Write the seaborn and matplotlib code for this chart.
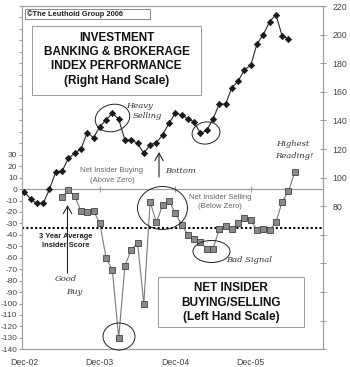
import matplotlib
matplotlib.use("Agg")
import matplotlib.pyplot as plt
import numpy as np
import pandas as pd
import seaborn as sns
from matplotlib.patches import Ellipse, Rectangle

# ---------------- data ----------------
# Investment Banking & Brokerage Index (right scale), monthly from Dec-02
index_perf = [90, 85, 82, 82, 92, 104, 104.5, 113.5, 117, 120, 131.5, 128,
              135.5, 140.5, 145, 141, 126, 126.5, 124, 117, 123, 124.5, 130, 138,
              145, 144, 141, 139, 131, 133, 141, 151.5, 151.5, 163, 167.5, 175.5,
              178.5, 193.5, 200, 209, 214, 199, 197]
# Net insider buying/selling (left scale), starting Jun-03
insider_start = 6
insider_score = [-7, -1, -6, -19, -20, -19, -30, -60, -71, -130, -67, -53,
                 -47, -100, -11, -29, -14, -10, -21, -31, -40, -44, -46, -52,
                 -52, -35, -32, -35, -30, -25, -27, -36, -35, -36, -29, -11,
                 -2, 15]
avg_insider = -34
x_tick_pos = [0, 12, 24, 36]
x_tick_labels = ["Dec-02", "Dec-03", "Dec-04", "Dec-05"]
left_ticks = list(range(-140, 161, 10))
right_ticks = list(range(-20, 221, 20))

df_idx = pd.DataFrame({"month": np.arange(len(index_perf)), "value": index_perf})
df_ins = pd.DataFrame({"month": np.arange(insider_start, insider_start + len(insider_score)),
                       "value": insider_score})

# ---------------- style ----------------
sns.set_theme(style="white")
plt.rcParams["font.family"] = ["Liberation Sans", "DejaVu Sans"]

W, H = 350, 367
fig = plt.figure(figsize=(W / 100, H / 100), dpi=100)
L, R, T, B = 22, 322.7, 6, 349.3
ax = fig.add_axes([L / W, 1 - B / H, (R - L) / W, (B - T) / H])
ax2 = ax.twinx()

# reference lines
ax.axhline(0, color="#9a9a9a", lw=0.8, zorder=1)
ax.vlines(x_tick_pos[1:], -2.5, 2.5, color="#9a9a9a", lw=0.8, zorder=1)
ax.axhline(avg_insider, color="black", lw=1.5, ls=(0, (1, 1.1)), zorder=2)

# series
sns.lineplot(data=df_ins, x="month", y="value", ax=ax, color="#7a7a7a", lw=0.8,
             marker="s", markersize=4.3, markerfacecolor="#8a8a8a",
             markeredgecolor="#444444", markeredgewidth=0.6, zorder=3)
sns.lineplot(data=df_idx, x="month", y="value", ax=ax2, color="#2a2a2a", lw=0.8,
             marker="D", markersize=3.3, markerfacecolor="#1a1a1a",
             markeredgecolor="#111111", markeredgewidth=0.4, zorder=3)

ax.set_xlim(-0.37, 47.44)
ax.set_ylim(-140, 160)
ax2.set_ylim(-20, 220)
for a in (ax, ax2):
    a.set_xlabel("")
    a.set_ylabel("")
    for s in a.spines.values():
        s.set_color("#a0a0a0")
        s.set_linewidth(0.8)

ax.set_xticks(x_tick_pos)
ax.set_xticklabels(x_tick_labels)
ax.set_yticks(left_ticks)
ax.set_yticklabels([str(v) if v <= 30 else "" for v in left_ticks])
ax2.set_yticks(right_ticks)
ax2.set_yticklabels([str(v) if v >= 80 else "" for v in right_ticks])

ax.tick_params(axis="x", length=0, pad=6.5, labelsize=6.3, labelcolor="#444444")
ax.tick_params(axis="y", direction="out", length=2.5, width=0.7, color="#999999",
               pad=0.8, labelsize=6.0, labelcolor="#444444", left=True)
ax2.tick_params(axis="y", direction="inout", length=4, width=0.7, color="#999999",
                pad=5, labelsize=6.3, labelcolor="#444444", right=True)

# ---------------- overlay in pixel coordinates ----------------
ov = fig.add_axes([0, 0, 1, 1], zorder=5)
ov.set_xlim(0, W)
ov.set_ylim(H, 0)
ov.axis("off")
ov.patch.set_alpha(0)

# copyright box
ov.add_patch(Rectangle((24.5, 9), 125.5, 9.5, fc="white", ec="#888888", lw=0.7))
ov.text(27, 13.9, "\u00a9The Leuthold Group 2006", fontsize=5.4, fontweight="bold",
        ha="left", va="center", color="#222222")

# title box (right scale)
ov.add_patch(Rectangle((32, 25.5), 168.5, 69.5, fc="white", ec="#999999", lw=0.7))
for txt, yy in [("INVESTMENT", 38), ("BANKING & BROKERAGE", 52),
                ("INDEX PERFORMANCE", 66), ("(Right Hand Scale)", 81)]:
    ov.text(116.5, yy, txt, fontsize=8.5, fontweight="bold", ha="center",
            va="center", color="#111111")

# bottom box (left scale)
ov.add_patch(Rectangle((158.3, 277.3), 146, 49.4, fc="white", ec="#999999", lw=0.7))
for txt, yy in [("NET INSIDER", 287.7), ("BUYING/SELLING", 302.5),
                ("(Left Hand Scale)", 316.7)]:
    ov.text(231.3, yy, txt, fontsize=8.5, fontweight="bold", ha="center",
            va="center", color="#111111")

# gray notes
for txt, xx, yy in [("Net Insider Buying", 112, 171), ("(Above Zero)", 112, 180.7),
                    ("Net Insider Selling", 220, 197.7), ("(Below Zero)", 220, 206.7)]:
    ov.text(xx, yy, txt, fontsize=5.5, ha="center", va="center", color="#666666")
for txt, yy in [("3 Year Average", 236), ("Insider Score", 245.7)]:
    ov.text(66, yy, txt, fontsize=5.4, fontweight="bold", ha="center", va="center",
            color="#222222")

# handwritten annotations
hand = dict(fontsize=6, fontstyle="italic", color="#333333", ha="center",
            va="center", family=["DejaVu Serif", "DejaVu Sans"])
ov.text(140, 106, "Heavy", **hand)
ov.text(147, 116, "Selling", **hand)
ov.text(181, 171, "Bottom", **hand)
ov.text(293, 143.5, "Highest", **hand)
ov.text(294.5, 156, "Reading!", **hand)
ov.text(65.5, 279, "Good", **hand)
ov.text(74, 292, "Buy", **hand)
ov.text(249.5, 260.5, "Bad Signal", **hand)

ell = dict(fill=False, ec="#222222", lw=0.7)
ov.add_patch(Ellipse((112.5, 118), 35, 27, angle=-15, **ell))
ov.add_patch(Ellipse((206, 133), 28, 22, angle=-10, **ell))
ov.add_patch(Ellipse((162.5, 208), 50, 43, angle=0, **ell))
ov.add_patch(Ellipse((211.5, 251.5), 37, 22, angle=0, **ell))
ov.add_patch(Ellipse((119, 336.5), 32, 27, angle=0, **ell))

arrow = dict(arrowstyle="->,head_length=0.45,head_width=0.25", color="#222222",
             lw=0.8, shrinkA=0, shrinkB=0)
ov.annotate("", xy=(159, 152), xytext=(159, 177), arrowprops=arrow)
ov.annotate("", xy=(67.5, 205), xytext=(67.5, 273), arrowprops=arrow)

fig.savefig("out.png", dpi=100)
